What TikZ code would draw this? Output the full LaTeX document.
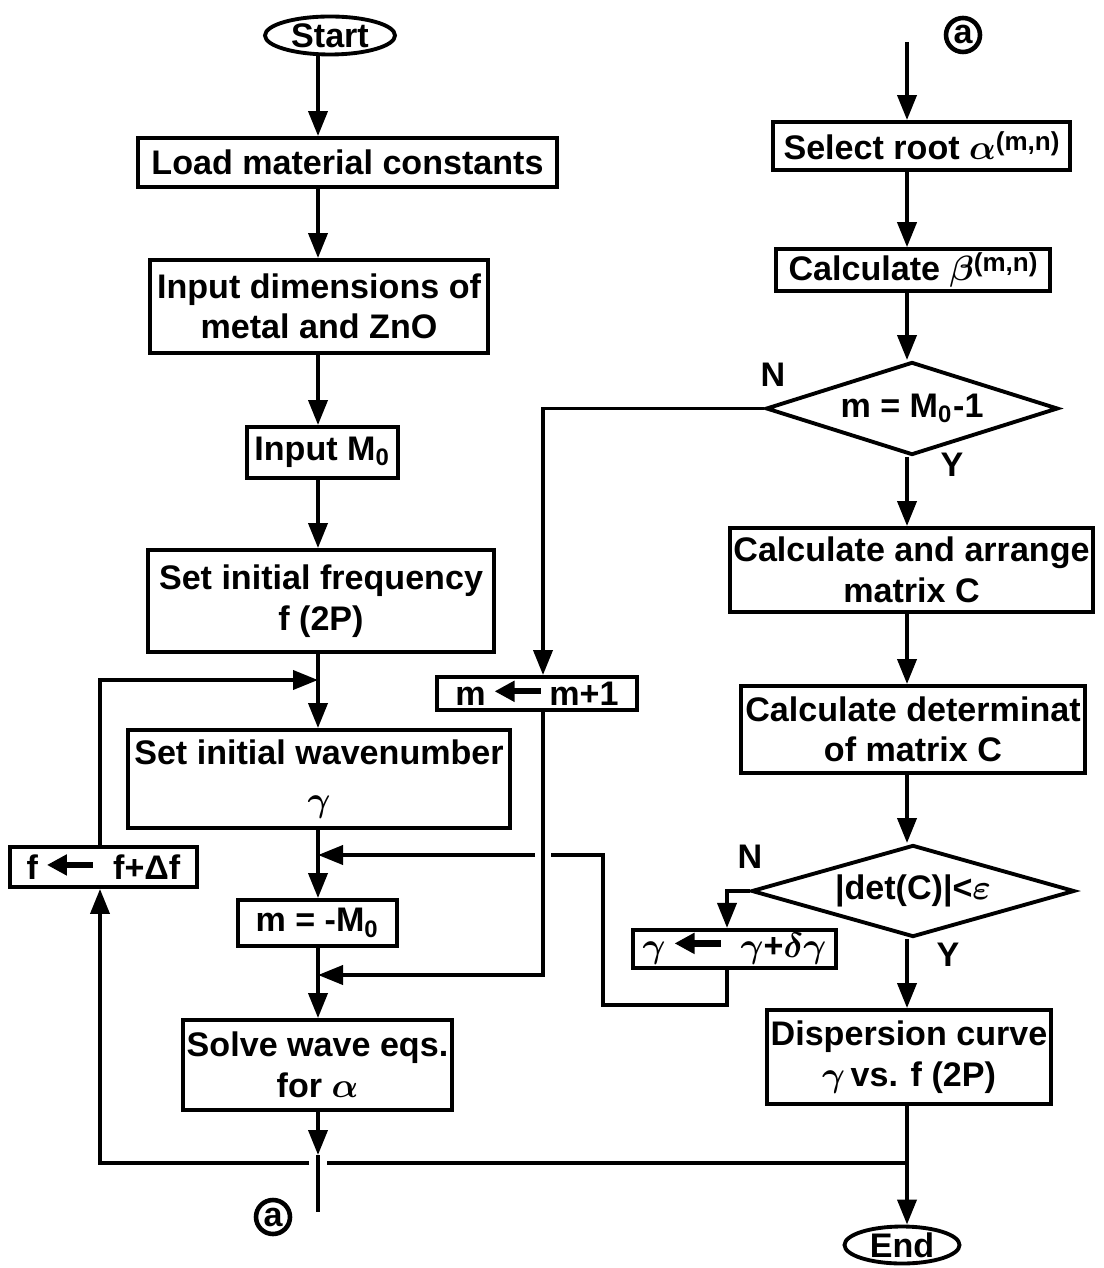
\documentclass[tikz,border=0pt]{standalone}
\usepackage{fontspec}
\setmainfont{Liberation Sans}
\usetikzlibrary{arrows.meta, positioning, shapes.geometric}
\newcommand{\getsarrow}{\tikz[baseline=-0.8ex]\draw[line width=1.8pt, -{Triangle[length=0.2cm, width=0.2cm]}] (0.46,0) -- (0,0);}
\newcommand{\mnidx}{\raisebox{0.5ex}{\fontsize{7.4}{8}\selectfont (m,n)}}
\newcommand{\gr}[1]{{\boldmath$#1$}}

\begin{document}
\begin{tikzpicture}[font=\fontsize{9.7}{11.5}\selectfont\bfseries,
    box/.style={draw, line width=1.1pt, align=center, inner xsep=1pt, inner ysep=1pt},
    term/.style={draw, ellipse, line width=1.1pt, inner sep=0pt},
    test/.style={draw, diamond, aspect=3, line width=1.1pt, inner sep=0pt},
    conn/.style={draw, circle, line width=1.3pt, inner sep=0pt, minimum size=0.34cm},
    flow/.style={-{Triangle[length=0.25cm, width=0.19cm]}, line width=1.1pt},
    link/.style={line width=1.1pt}]
    \useasboundingbox (0,0) rectangle (11.03,-12.68);

    \node[term, minimum width=1.30cm, minimum height=0.38cm] (start) at (3.30,-0.355) {Start};
    \node[box, minimum width=4.19cm, minimum height=0.49cm] (load) at (3.475,-1.625) {Load material constants};
    \node[box, minimum width=3.38cm, minimum height=0.93cm] (dims) at (3.19,-3.065) {Input dimensions of\\metal and ZnO};
    \node[box, minimum width=1.51cm, minimum height=0.51cm] (inM) at (3.225,-4.525) {Input M\textsubscript{0}};
    \node[box, minimum width=3.46cm, minimum height=1.02cm] (freq) at (3.21,-6.01) {Set initial frequency\\f (2P)};
    \node[box, minimum width=3.82cm, minimum height=0.98cm] (wave) at (3.19,-7.79) {Set initial wavenumber\\[2pt]\gr{\gamma}};
    \node[box, minimum width=1.59cm, minimum height=0.46cm] (mset) at (3.175,-9.23) {m = -M\textsubscript{0}};
    \node[box, minimum width=2.69cm, minimum height=0.90cm] (solve) at (3.175,-10.65) {Solve wave eqs.\\for \gr{\alpha}};
    \node[box, minimum width=1.87cm, minimum height=0.40cm] (fstep) at (1.035,-8.67) {f\,\getsarrow\,\,\,f+Δf};
    \node[box, minimum width=2.00cm, minimum height=0.33cm] (mstep) at (5.37,-6.935) {m\,\getsarrow\,m+1};
    \node[conn] (alink) at (2.73,-12.17) {a};

    \node[conn] (aentry) at (9.63,-0.35) {a};
    \node[box, minimum width=2.97cm, minimum height=0.48cm] (root) at (9.215,-1.46) {Select root \gr{\alpha}\mnidx};
    \node[box, minimum width=2.74cm, minimum height=0.40cm] (beta) at (9.13,-2.70) {Calculate \gr{\beta}\mnidx};
    \node[test, minimum width=2.92cm, minimum height=0.93cm] (last) at (9.12,-4.085) {m = M\textsubscript{0}-1};
    \node[box, minimum width=3.63cm, minimum height=0.84cm] (mat) at (9.115,-5.70) {Calculate and arrange\\matrix C};
    \node[box, minimum width=3.44cm, minimum height=0.87cm] (det) at (9.13,-7.295) {Calculate determinat\\of matrix C};
    \node[test, minimum width=3.23cm, minimum height=0.92cm] (conv) at (9.13,-8.91) {|det(C)|<\gr{\varepsilon}};
    \node[box, minimum width=2.03cm, minimum height=0.38cm] (gstep) at (7.345,-9.49) {\gr{\gamma}\,\getsarrow\,\,\,\gr{\gamma}+\gr{\delta\gamma}};
    \node[box, minimum width=2.78cm, minimum height=0.94cm] (disp) at (9.09,-10.57) {Dispersion curve\\\gr{\gamma}\,vs. f (2P)};
    \node[term, minimum width=1.15cm, minimum height=0.37cm] (finish) at (9.02,-12.45) {End};

    \node (no1) at (7.73,-3.75) {N};
    \node (yes1) at (9.52,-4.65) {Y};
    \node (no2) at (7.50,-8.57) {N};
    \node (yes2) at (9.48,-9.55) {Y};

    \coordinate (lx) at (3.18,0);
    \coordinate (rx) at (9.07,0);
    \coordinate (mx) at (5.43,0);
    \coordinate (gx) at (7.27,0);
    \coordinate (fx) at (1.00,0);
    \coordinate (jf) at (3.18,-6.80);
    \coordinate (jg) at (3.18,-8.55);
    \coordinate (jm) at (3.18,-9.75);
    \coordinate (jd) at (9.07,-11.63);
    \coordinate (atop) at (9.07,-0.42);
    \coordinate (atip) at (3.18,-11.55);
    \coordinate (aend) at (3.18,-12.12);
    \coordinate (gapR) at (3.27,-11.63);
    \coordinate (gapL) at (3.09,-11.63);
    \coordinate (g1) at (6.03,-10.05);
    \coordinate (g2) at (6.03,-8.55);
    \coordinate (gE) at (5.51,-8.55);
    \coordinate (gW) at (5.35,-8.55);

    \draw[flow] (start.south -| lx) -- (load.north -| lx);
    \draw[flow] (load.south -| lx) -- (dims.north -| lx);
    \draw[flow] (dims.south -| lx) -- (inM.north -| lx);
    \draw[flow] (inM.south -| lx) -- (freq.north -| lx);
    \draw[flow] (freq.south -| lx) -- (wave.north -| lx);
    \draw[flow] (fstep.north -| fx) |- (jf);
    \draw[flow] (wave.south -| lx) -- (mset.north -| lx);
    \draw[flow] (mset.south -| lx) -- (solve.north -| lx);
    \draw[flow] (solve.south -| lx) -- (atip);
    \draw[link] (atip) -- (aend);
    \draw[link] (jd) -- (gapR);
    \draw[flow] (gapL) -| (fstep.south -| fx);

    \draw[flow] (atop) -- (root.north -| rx);
    \draw[flow] (root.south -| rx) -- (beta.north -| rx);
    \draw[flow] (beta.south -| rx) -- (last.north -| rx);
    \draw[flow] (last.south -| rx) -- (mat.north -| rx);
    \draw[flow] (mat.south -| rx) -- (det.north -| rx);
    \draw[flow] (det.south -| rx) -- (conv.north -| rx);
    \draw[flow] (conv.south -| rx) -- (disp.north -| rx);
    \draw[link] (disp.south -| rx) -- (jd);
    \draw[flow] (jd) -- (finish.north -| rx);

    \draw[flow] (last.west) -| (mstep.north -| mx);
    \draw[flow] (mstep.south -| mx) |- (jm);
    \draw[flow] (conv.west) -| (gstep.north -| gx);
    \draw[link] (gstep.south -| gx) |- (g1) -- (g2) -- (gE);
    \draw[flow] (gW) -- (jg);
\end{tikzpicture}
\end{document}
